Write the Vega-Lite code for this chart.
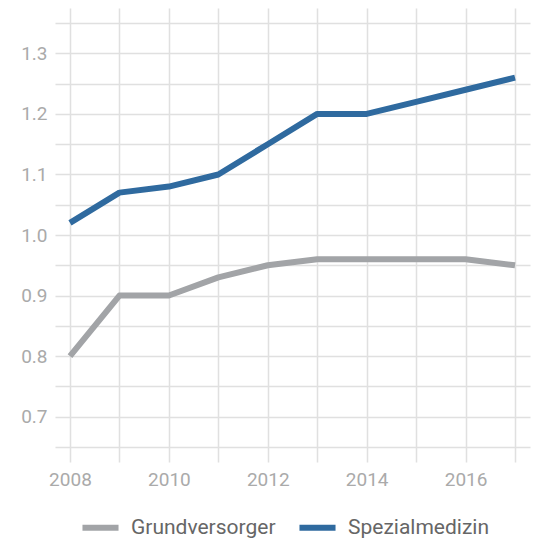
{
  "$schema": "https://vega.github.io/schema/vega-lite/v6.json",
  "autosize": {"type": "none"},
  "width": 475,
  "height": 454,
  "padding": {"left": 55, "top": 8, "right": 9, "bottom": 81},
  "background": "white",
  "data": {"values": [
    {"year": 2008, "series": "Grundversorger", "value": 0.80},
    {"year": 2009, "series": "Grundversorger", "value": 0.90},
    {"year": 2010, "series": "Grundversorger", "value": 0.90},
    {"year": 2011, "series": "Grundversorger", "value": 0.93},
    {"year": 2012, "series": "Grundversorger", "value": 0.95},
    {"year": 2013, "series": "Grundversorger", "value": 0.96},
    {"year": 2014, "series": "Grundversorger", "value": 0.96},
    {"year": 2015, "series": "Grundversorger", "value": 0.96},
    {"year": 2016, "series": "Grundversorger", "value": 0.96},
    {"year": 2017, "series": "Grundversorger", "value": 0.95},
    {"year": 2008, "series": "Spezialmedizin", "value": 1.02},
    {"year": 2009, "series": "Spezialmedizin", "value": 1.07},
    {"year": 2010, "series": "Spezialmedizin", "value": 1.08},
    {"year": 2011, "series": "Spezialmedizin", "value": 1.10},
    {"year": 2012, "series": "Spezialmedizin", "value": 1.15},
    {"year": 2013, "series": "Spezialmedizin", "value": 1.20},
    {"year": 2014, "series": "Spezialmedizin", "value": 1.20},
    {"year": 2015, "series": "Spezialmedizin", "value": 1.22},
    {"year": 2016, "series": "Spezialmedizin", "value": 1.24},
    {"year": 2017, "series": "Spezialmedizin", "value": 1.26}
  ]},
  "mark": {"type": "line", "strokeWidth": 6, "strokeCap": "butt", "strokeJoin": "round"},
  "encoding": {
    "x": {
      "field": "year", "type": "quantitative",
      "scale": {"domain": [2007.697, 2017.303], "nice": false, "zero": false},
      "axis": {
        "title": null, "domain": false, "ticks": false,
        "values": [2008, 2009, 2010, 2011, 2012, 2013, 2014, 2015, 2016, 2017],
        "labelExpr": "datum.value % 2 == 0 ? format(datum.value, 'd') : ''",
        "labelFont": "Roboto", "labelFontSize": 19, "labelColor": "#aaaaaa",
        "labelPadding": 8,
        "gridColor": "#e0e0e0", "gridWidth": 1.5
      }
    },
    "y": {
      "field": "value", "type": "quantitative",
      "scale": {"domain": [0.625, 1.375], "nice": false, "zero": false},
      "axis": {
        "title": null, "domain": false, "ticks": false,
        "values": [0.65, 0.7, 0.75, 0.8, 0.85, 0.9, 0.95, 1.0, 1.05, 1.1, 1.15, 1.2, 1.25, 1.3, 1.35],
        "labelExpr": "(round(datum.value * 100) % 10 == 0) ? format(datum.value, '.1f') : ''",
        "labelFont": "Roboto", "labelFontSize": 19, "labelColor": "#aaaaaa",
        "labelPadding": 8,
        "gridColor": "#e0e0e0", "gridWidth": 1.5
      }
    },
    "color": {
      "field": "series", "type": "nominal",
      "scale": {"domain": ["Grundversorger", "Spezialmedizin"], "range": ["#a2a4a7", "#2f6a9f"]},
      "legend": {
        "title": null, "orient": "none", "direction": "horizontal",
        "legendX": 24, "legendY": 498,
        "symbolType": "stroke", "symbolSize": 1300, "symbolStrokeWidth": 6,
        "labelFont": "Roboto", "labelFontSize": 21, "labelColor": "#666666",
        "labelOffset": 9, "columnPadding": 11
      }
    }
  },
  "config": {"view": {"stroke": null}}
}
